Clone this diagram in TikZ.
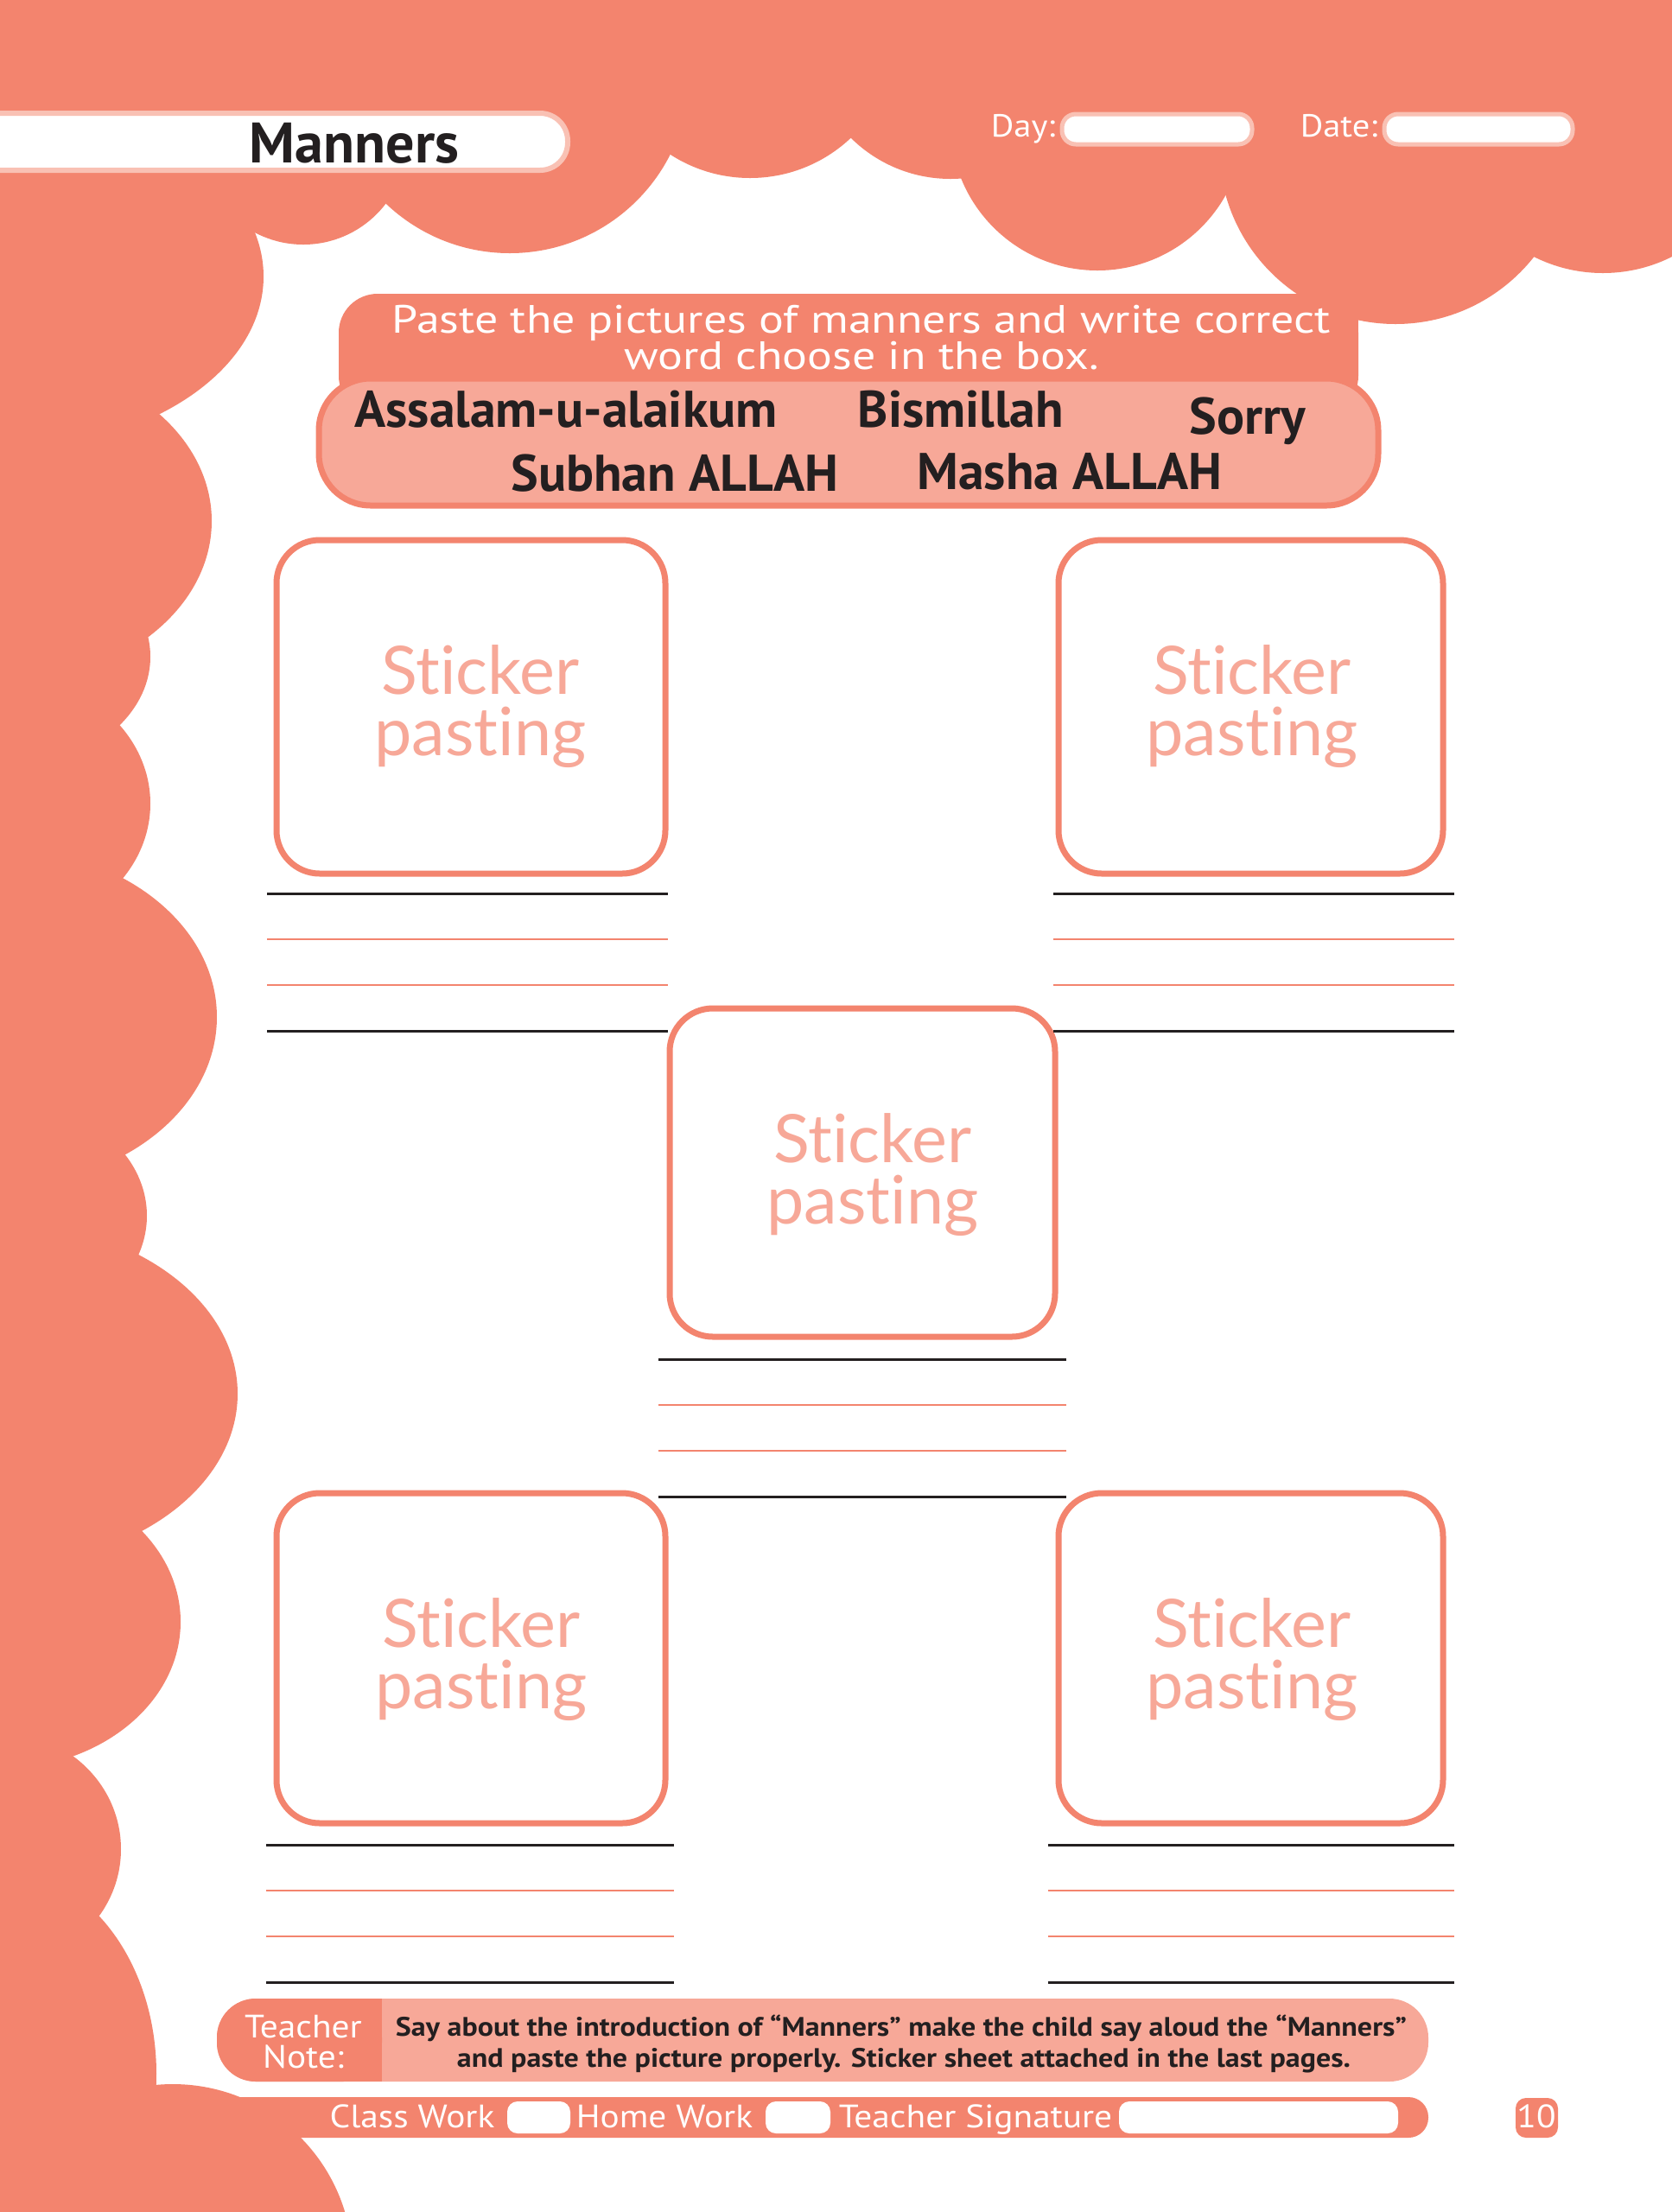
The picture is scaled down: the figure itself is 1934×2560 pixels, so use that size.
\documentclass[tikz,border=0pt]{standalone}
\usepackage{fontspec}
\setmainfont{PT Sans}
\newfontfamily\stickfont[Ligatures=NoCommon]{Lato}
\newfontfamily\widefont[FakeStretch=1.18]{PT Sans}
\newfontfamily\midfont[FakeStretch=1.1]{PT Sans}
\definecolor{salm}{HTML}{F3846E}
\definecolor{lsalm}{HTML}{F7A898}
\definecolor{pinkb}{HTML}{F9C1B4}
\definecolor{ink}{HTML}{231F20}
\tikzset{
  cloud/.style={fill=salm},
  stickerbox/.style={draw=salm, line width=0.7mm, rounded corners=5mm, fill=white},
  sticktext/.style={text=lsalm, font=\stickfont\fontsize{22}{24}\selectfont, anchor=base, inner sep=0},
  blackline/.style={draw=ink, line width=0.3mm},
  salmline/.style={draw=salm, line width=0.2mm},
  wordtext/.style={text=ink, font=\bfseries\fontsize{17}{19}\selectfont, anchor=base, inner sep=0},
  whitetext/.style={text=white, anchor=base, inner sep=0},
  labeltext/.style={whitetext, font=\midfont\fontsize{10.7}{12}\selectfont},
  notetext/.style={text=ink, anchor=base, inner sep=0, font=\midfont\bfseries\fontsize{8.8}{10}\selectfont},
  smallbox/.style={fill=white, rounded corners=1.2mm},
}
\begin{document}
\begin{tikzpicture}[x=0.1mm,y=-0.1mm]
\useasboundingbox (0,0) rectangle (1934,2560);
\fill[white] (0,0) rectangle (1934,2560);
% ---------- cloud border ----------
\fill[cloud] (0,0) rectangle (1934,150);
\fill[cloud] (0,0) rectangle (60,2560);
\foreach \cx/\cy/\r in {351/163/120, 590/85/208, 868/36/170, 1100/43/164, 1270/143/170, 1615/171/204, 1855/138/178, 200/2620/208}
  \fill[cloud] (\cx,\cy) circle (\r);
\foreach \cy/\rx/\ry in {320/305/200, 603/245/188, 760/174/131, 930/174/150, 1177/251/195, 1407/170/135, 1613/275/198, 1877/209/170, 2140/140/135, 2400/181/236}
  \fill[cloud] (0,\cy) ellipse [x radius=\rx, y radius=\ry];
% ---------- title ----------
\draw[pinkb, line width=0.6mm, fill=white, rounded corners=3.2mm] (-40,131) rectangle (657,197);
\node[text=ink, font=\bfseries\fontsize{18.8}{20}\selectfont, anchor=base, inner sep=0] (title) at (410,188) {Manners};
\node[labeltext, font=\midfont\fontsize{10.5}{12}\selectfont, anchor=base east] (daylbl) at (1222,158) {Day:};
\draw[pinkb, line width=0.5mm, fill=white, rounded corners=1.6mm] (1229,132) rectangle (1449,167);
\node[labeltext, font=\midfont\fontsize{10.5}{12}\selectfont, anchor=base east] (datelbl) at (1595,158) {Date:};
\draw[pinkb, line width=0.5mm, fill=white, rounded corners=1.6mm] (1602,132) rectangle (1820,167);
% ---------- instruction ----------
\fill[salm, rounded corners=4.5mm] (392,340) rectangle (1572,480);
\fill[salm] (1450,340) rectangle (1572,420);
\node[whitetext, font=\widefont\fontsize{13}{12}\selectfont] (instr1) at (997,385) {Paste the pictures of manners and write correct};
\node[whitetext, font=\widefont\fontsize{13}{12}\selectfont] (instr2) at (997,427) {word choose in the box.};
\draw[salm, line width=0.7mm, fill=lsalm, rounded corners=6mm] (369,438) rectangle (1595,585);
\node[wordtext] (w1) at (655,494) {Assalam-u-alaikum};
\node[wordtext] (w2) at (1112,494) {Bismillah};
\node[wordtext] (w3) at (1444,502) {Sorry};
\node[wordtext] (w4) at (781,568) {Subhan ALLAH};
\node[wordtext] (w5) at (1238,566) {Masha ALLAH};
% ---------- sticker boxes ----------
\draw[stickerbox] (320,625) rectangle (770,1011);
\draw[stickerbox] (1225,625) rectangle (1670,1011);
\draw[stickerbox] (775,1167) rectangle (1221,1547);
\draw[stickerbox] (320,1728) rectangle (770,2110);
\draw[stickerbox] (1225,1728) rectangle (1670,2110);
\foreach \n/\sx/\sy in {1/556/803, 2/1449/803, 3/1010/1345, 4/557/1906, 5/1449/1906}{
  \node[sticktext] (st\n) at (\sx,\sy) {Sticker};
  \node[sticktext] (pa\n) at (\sx,\sy+71) {pasting};
}
% ---------- writing lines ----------
\foreach \xa/\xb/\ya in {309/773/1034, 1219/1683/1034, 762/1234/1573, 308/780/2135, 1213/1683/2135}{
  \draw[blackline] (\xa,\ya) -- (\xb,\ya);
  \draw[salmline] (\xa,\ya+53) -- (\xb,\ya+53);
  \draw[salmline] (\xa,\ya+106) -- (\xb,\ya+106);
  \draw[blackline] (\xa,\ya+159) -- (\xb,\ya+159);
}
% ---------- teacher note ----------
\fill[lsalm, rounded corners=4.5mm] (251,2313) rectangle (1653,2409);
\fill[salm, rounded corners=4.5mm] (251,2313) rectangle (442,2409);
\fill[salm] (380,2313) rectangle (442,2409);
\node[labeltext] (tn1) at (351,2358) {Teacher};
\node[labeltext] (tn2) at (351,2393) {Note:};
\node[notetext] (note1) at (1043,2356) {Say about the introduction of “Manners” make the child say aloud the “Manners”};
\node[notetext] (note2) at (1046,2392) {and paste the picture properly. Sticker sheet attached in the last pages.};
% ---------- footer ----------
\fill[salm, rounded corners=2.3mm] (260,2427) rectangle (1653,2474);
\fill[salm] (260,2427) rectangle (320,2474);
\node[labeltext] (cw) at (477,2462) {Class Work};
\fill[smallbox] (587,2432) rectangle (660,2469);
\node[labeltext] (hw) at (769,2462) {Home Work};
\fill[smallbox] (886,2432) rectangle (961,2469);
\node[labeltext] (ts) at (1129,2462) {Teacher Signature};
\fill[smallbox] (1295,2432) rectangle (1618,2469);
\fill[salm, rounded corners=1.2mm] (1754,2428) rectangle (1803,2474);
\node[labeltext] (pg) at (1778,2462) {10};
\end{tikzpicture}
\end{document}
